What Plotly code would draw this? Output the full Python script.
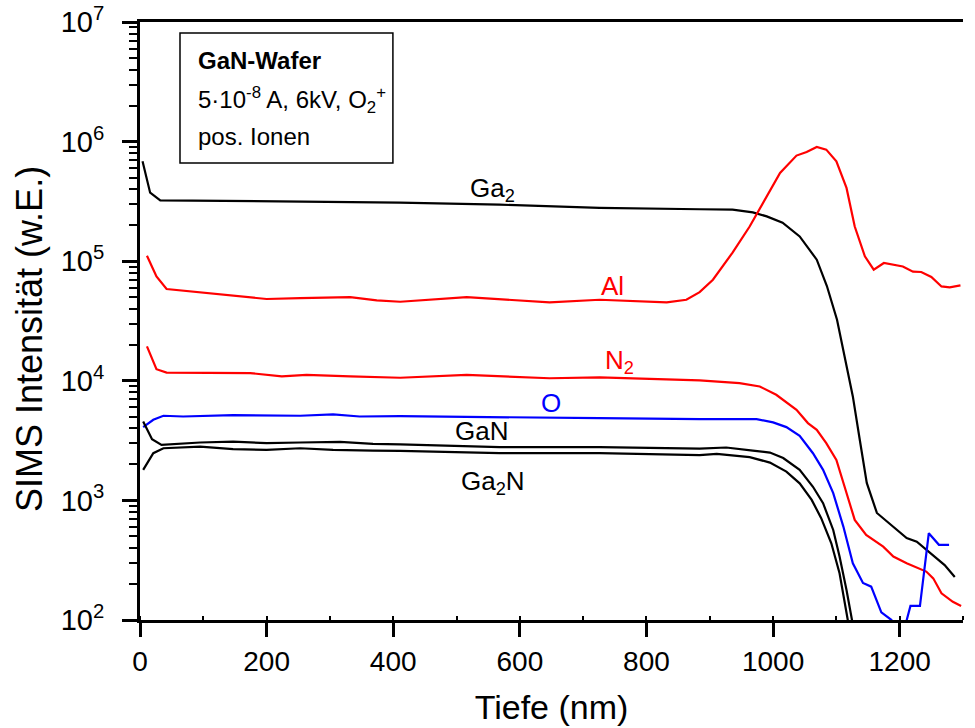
import numpy as np
import plotly.graph_objects as go

# ---------------- data (depth in nm, intensity in arbitrary units) ----------------
ga2_x = [4, 16, 32, 410, 568, 726, 884, 936, 968, 990, 1015, 1042, 1069, 1085, 1101,
         1118, 1126, 1137, 1148, 1164, 1180, 1211, 1227, 1252, 1271, 1287]
ga2_y = [6.84e5, 3.74e5, 3.23e5, 3.09e5, 2.97e5, 2.79e5, 2.72e5, 2.70e5, 2.56e5, 2.37e5,
         2.10e5, 1.61e5, 1.03e5, 6.2e4, 3.24e4, 1.17e4, 7.4e3, 3.2e3, 1.40e3, 785, 665,
         485, 452, 350, 288, 229]

al_x = [11, 26, 42, 95, 121, 200, 253, 332, 374, 411, 516, 647, 726, 832, 863, 884, 905,
        936, 963, 990, 1011, 1037, 1053, 1069, 1084, 1100, 1116, 1129, 1145, 1159, 1175,
        1205, 1221, 1234, 1250, 1266, 1279, 1296]
al_y = [1.11e5, 7.47e4, 5.85e4, 5.48e4, 5.35e4, 4.83e4, 4.92e4, 5.01e4, 4.70e4, 4.58e4,
        5.01e4, 4.52e4, 4.76e4, 4.52e4, 4.76e4, 5.51e4, 7.0e4, 1.18e5, 1.95e5, 3.48e5,
        5.47e5, 7.64e5, 8.2e5, 9.03e5, 8.57e5, 6.84e5, 4.10e5, 1.95e5, 1.10e5, 8.49e4,
        9.66e4, 9.04e4, 8.17e4, 8.12e4, 7.38e4, 6.15e4, 6.04e4, 6.27e4]

n2_x = [11, 26, 42, 95, 174, 224, 263, 332, 374, 411, 516, 647, 726, 884, 947, 979, 1005,
        1037, 1055, 1069, 1084, 1100, 1113, 1129, 1147, 1174, 1190, 1211, 1242, 1253, 1266,
        1284, 1297]
n2_y = [1.94e4, 1.25e4, 1.17e4, 1.16e4, 1.16e4, 1.09e4, 1.12e4, 1.09e4, 1.07e4, 1.06e4,
        1.12e4, 1.05e4, 1.07e4, 1.01e4, 9.57e3, 8.96e3, 7.64e3, 5.72e3, 4.43e3, 3.89e3,
        3.01e3, 2.18e3, 1.30e3, 687, 514, 410, 339, 298, 254, 223, 167, 142, 131]

o_x = [5, 21, 37, 68, 147, 253, 305, 347, 411, 568, 726, 884, 974, 1000, 1021, 1042, 1063,
       1079, 1095, 1111, 1126, 1142, 1155, 1171, 1187, 1200, 1217, 1232, 1246, 1262, 1278]
o_y = [4.10e3, 4.72e3, 5.10e3, 5.03e3, 5.16e3, 5.10e3, 5.23e3, 5.03e3, 5.06e3, 4.93e3,
       4.87e3, 4.78e3, 4.78e3, 4.49e3, 4.10e3, 3.47e3, 2.48e3, 1.80e3, 1.15e3, 604, 298,
       204, 190, 116, 100, 60, 131, 131, 532, 425, 425]

gan_x = [5, 19, 34, 95, 147, 200, 253, 316, 368, 411, 568, 726, 884, 926, 968, 995, 1016,
         1042, 1063, 1079, 1095, 1105, 1116, 1124, 1130]
gan_y = [4.56e3, 3.25e3, 2.91e3, 3.05e3, 3.10e3, 3.01e3, 3.05e3, 3.09e3, 2.97e3, 2.94e3,
         2.79e3, 2.79e3, 2.71e3, 2.77e3, 2.61e3, 2.51e3, 2.26e3, 1.80e3, 1.30e3, 947, 566,
         339, 178, 100, 70]

ga2n_x = [5, 21, 37, 95, 147, 200, 253, 305, 368, 411, 568, 726, 884, 911, 963, 995, 1021,
          1042, 1061, 1076, 1092, 1105, 1118, 1125]
ga2n_y = [1.80e3, 2.48e3, 2.73e3, 2.82e3, 2.68e3, 2.65e3, 2.73e3, 2.65e3, 2.61e3, 2.59e3,
          2.48e3, 2.48e3, 2.39e3, 2.45e3, 2.30e3, 2.07e3, 1.74e3, 1.39e3, 1.01e3, 710, 438,
          246, 100, 60]

series_names = ["Ga2", "Al", "N2", "O", "GaN", "Ga2N"]
series_colors = ["black", "red", "red", "blue", "black", "black"]

# curve labels: text, x (nm), y (intensity)
label_texts = ["Ga<sub>2</sub>", "Al", "N<sub>2</sub>", "O", "GaN", "Ga<sub>2</sub>N"]
label_x = [557, 747, 757, 649, 540, 557]
label_y = [10**5.60, 10**4.795, 10**4.16, 10**3.816, 10**3.582, 10**3.15]
label_colors = ["black", "red", "red", "blue", "black", "black"]

y_tick_vals = [1e2, 1e3, 1e4, 1e5, 1e6, 1e7]
y_tick_text = ["10<sup>2</sup>", "10<sup>3</sup>", "10<sup>4</sup>", "10<sup>5</sup>",
               "10<sup>6</sup>", "10<sup>7</sup>"]
x_tick_vals = [0, 200, 400, 600, 800, 1000, 1200]

FONT = "Arial, Liberation Sans, sans-serif"

fig = go.Figure()
xs = [ga2_x, al_x, n2_x, o_x, gan_x, ga2n_x]
ys = [ga2_y, al_y, n2_y, o_y, gan_y, ga2n_y]
for name, col, x, y in zip(series_names, series_colors, xs, ys):
    fig.add_trace(go.Scatter(x=x, y=y, mode="lines", name=name,
                             line=dict(color=col, width=2.2), showlegend=False))

for t, x, y, c in zip(label_texts, label_x, label_y, label_colors):
    fig.add_annotation(x=x, y=np.log10(y), xref="x", yref="y", text=t, showarrow=False,
                       font=dict(family=FONT, size=26, color=c),
                       xanchor="center", yanchor="middle")

# info box
fig.add_shape(type="rect", xref="paper", yref="paper", x0=0.0486, x1=0.3073,
              y0=0.7642, y1=0.9816, line=dict(color="black", width=1.5),
              fillcolor="white")
box_lines = ["<b>GaN-Wafer</b>", "5·10<sup>-8</sup> A, 6kV, O<sub>2</sub><sup>+</sup>",
             "pos. Ionen"]
box_y = [0.935, 0.87, 0.808]
for t, yy in zip(box_lines, box_y):
    fig.add_annotation(x=0.0685, y=yy, xref="paper", yref="paper", text=t, showarrow=False,
                       font=dict(family=FONT, size=24, color="black"),
                       xanchor="left", yanchor="middle")

# y-axis title as rotated annotation (placed like the reference)
fig.add_annotation(x=-0.1336, y=0.47, xref="paper", yref="paper",
                   text="SIMS Intensität (w.E.)", textangle=-90, showarrow=False,
                   font=dict(family=FONT, size=36, color="black"),
                   xanchor="center", yanchor="middle")

minor_y = [m * 10**e for e in range(2, 7) for m in range(2, 10)]

fig.update_layout(
    width=975, height=728,
    margin=dict(l=140, r=12, t=22, b=108),
    plot_bgcolor="white", paper_bgcolor="white",
    font=dict(family=FONT, color="black"),
    xaxis=dict(range=[0, 1300], showgrid=False, zeroline=False, automargin=False,
               showline=True, linecolor="black", linewidth=3, mirror=True,
               ticks="outside", ticklen=14, tickwidth=2.5, tickcolor="black",
               tickvals=x_tick_vals, tickfont=dict(size=28, family=FONT),
               minor=dict(ticks="inside", ticklen=4, tickwidth=2, dtick=100, tick0=0,
                          tickcolor="black", showgrid=False),
               title=dict(text="Tiefe (nm)", font=dict(size=34, family=FONT), standoff=20)),
    yaxis=dict(type="log", range=[2, 7], showgrid=False, zeroline=False, automargin=False,
               showline=True, linecolor="black", linewidth=3,
               ticks="outside", ticklen=15, tickwidth=2.5, tickcolor="black",
               tickvals=y_tick_vals, ticktext=y_tick_text,
               tickfont=dict(size=29, family=FONT), ticklabelstandoff=12,
               minor=dict(ticks="outside", ticklen=8, tickwidth=2, tickvals=minor_y,
                          tickcolor="black", showgrid=False)),
)

fig.write_html("out.html")
